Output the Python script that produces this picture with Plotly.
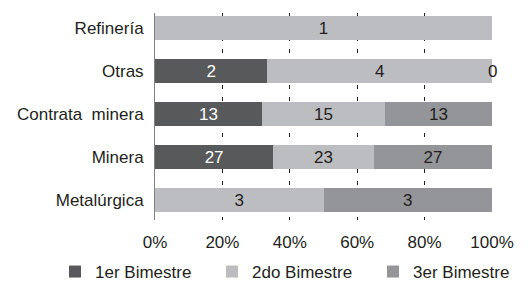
import plotly.graph_objects as go

categories = ["Refinería", "Otras", "Contrata  minera", "Minera", "Metalúrgica"]
series_names = ["1er Bimestre", "2do Bimestre", "3er Bimestre"]
bim1 = [None, 2, 13, 27, None]
bim2 = [1, 4, 15, 23, 3]
bim3 = [None, 0, 13, 27, 3]

colors = ["#58595b", "#bcbdc0", "#939598"]
text_colors = ["#ffffff", "#231f20", "#231f20"]
FONT = "Liberation Sans, Arial, sans-serif"
FS = 17
W, H = 529, 282

legend_ids = ["legend", "legend2", "legend3"]
legend_left_px = [55, 212, 373]

fig = go.Figure()
all_series = [bim1, bim2, bim3]
for name, vals, c, tc, lg in zip(series_names, all_series, colors, text_colors, legend_ids):
    fig.add_trace(go.Bar(
        y=categories, x=vals, name=name, orientation="h",
        marker=dict(color=c, line=dict(width=0)),
        text=[("" if v is None else str(v)) for v in vals],
        textposition="inside", insidetextanchor="middle", textangle=0,
        textfont=dict(color=tc, size=FS, family=FONT),
        constraintext="none", legend=lg, showlegend=True,
    ))

# labels for zero-valued segments (drawn at their cumulative position)
annotations = []
for i, cat in enumerate(categories):
    total = sum(v or 0 for s in all_series for v in [s[i]])
    cum = 0
    for s in all_series:
        v = s[i]
        if v is not None and v == 0:
            annotations.append(dict(x=cum / total * 100, y=cat, text=str(v), showarrow=False,
                                    xref="x", yref="y", font=dict(size=FS, family=FONT, color="#231f20")))
        cum += v or 0

legends = {}
for lg, px in zip(legend_ids, legend_left_px):
    legends[lg] = dict(orientation="h", xref="container", yref="container",
                       x=px / W, y=1 - 272 / H, xanchor="left", yanchor="middle",
                       font=dict(size=FS, family=FONT, color="#231f20"),
                       itemwidth=30, bgcolor="rgba(0,0,0,0)", visible=True)

n = len(categories)
fig.update_layout(
    barmode="stack", barnorm="percent", bargap=0.44,
    width=W, height=H, showlegend=True,
    margin=dict(l=155, r=37, t=13, b=62, autoexpand=False),
    paper_bgcolor="white", plot_bgcolor="white",
    font=dict(family=FONT, size=FS, color="#231f20"),
    annotations=annotations,
    xaxis=dict(range=[0, 100], tickvals=[0, 20, 40, 60, 80, 100],
               ticktext=["0%", "20%", "40%", "60%", "80%", "100%"],
               showgrid=True, gridcolor="#231f20", griddash="4px,8px", gridwidth=1,
               zeroline=False, showline=False, ticks="", ticklabelstandoff=10),
    yaxis=dict(range=[n - 1 + 0.465, -0.349], showline=True, linecolor="#808285", linewidth=1,
               showgrid=False, ticks="", ticklabelstandoff=7),
    **legends,
)

fig.write_html("out.html", config={"displayModeBar": False},
               post_script="document.body.style.margin='0';")
